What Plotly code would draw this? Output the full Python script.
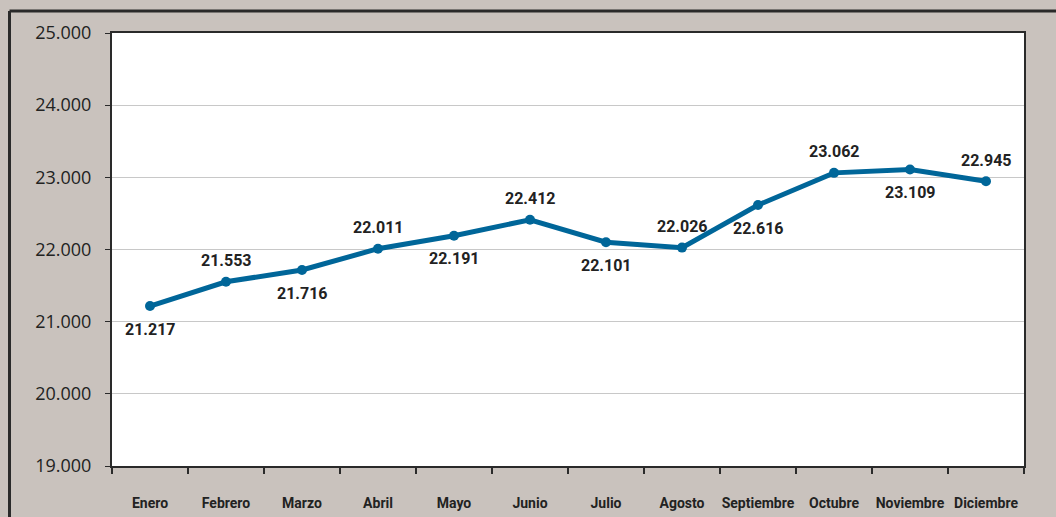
import plotly.graph_objects as go

# Monthly series
months = ["Enero", "Febrero", "Marzo", "Abril", "Mayo", "Junio", "Julio",
          "Agosto", "Septiembre", "Octubre", "Noviembre", "Diciembre"]
values = [21217, 21553, 21716, 22011, 22191, 22412, 22101,
          22026, 22616, 23062, 23109, 22945]
label_side = ["below", "above", "below", "above", "below", "above",
              "below", "above", "below", "above", "below", "above"]
y_ticks = [19000, 20000, 21000, 22000, 23000, 24000, 25000]

W, H = 1056, 517
L, R, T, B = 112, 32, 33, 51
plot_w = W - L - R
plot_h = H - T - B

LINE = "#006699"
BG = "#C9C2BD"
DARK = "#2A2A2A"
LABEL_FONT = "Roboto, sans-serif"


def fmt(v):
    return f"{v:,}".replace(",", ".")


def px_x(p):
    return (p - L) / plot_w


def px_y(p):
    return (H - B - p) / plot_h


fig = go.Figure()
fig.add_trace(go.Scatter(
    x=months, y=values, mode="lines+markers",
    line=dict(color=LINE, width=5),
    marker=dict(color=LINE, size=10),
    hoverinfo="skip", showlegend=False,
))

for m, v, side in zip(months, values, label_side):
    fig.add_annotation(
        x=m, y=v, text=f"<b>{fmt(v)}</b>", showarrow=False,
        yshift=21 if side == "above" else -23,
        font=dict(family=LABEL_FONT, size=16, color="#222222"),
    )

# Outer frame: top and left rules of the panel
fig.add_shape(type="line", xref="paper", yref="paper",
              x0=px_x(9.5), x1=px_x(W + 10), y0=px_y(11), y1=px_y(11),
              line=dict(color=DARK, width=3))
fig.add_shape(type="line", xref="paper", yref="paper",
              x0=px_x(9.5), x1=px_x(9.5), y0=px_y(11), y1=px_y(H + 10),
              line=dict(color=DARK, width=3))

fig.update_layout(
    width=W, height=H,
    margin=dict(l=L, r=R, t=T, b=B, autoexpand=False),
    paper_bgcolor=BG, plot_bgcolor="white",
    separators=",.",
    xaxis=dict(
        type="category", range=[-0.5, len(months) - 0.5],
        tickson="boundaries", ticks="outside", ticklen=6,
        tickcolor=DARK, tickwidth=1.5, showgrid=False,
        showline=True, linecolor=DARK, linewidth=2, mirror=True,
        tickangle=0, automargin=False,
        tickfont=dict(family=LABEL_FONT, size=14, color="#222222", weight="bold"),
        ticklabelstandoff=23, fixedrange=True,
    ),
    yaxis=dict(
        range=[19000, 25000], tickvals=y_ticks, tickformat=",d",
        ticks="outside", ticklen=5, tickcolor=DARK, tickwidth=1,
        showgrid=True, gridcolor="#C8C8C8", gridwidth=1,
        showline=True, linecolor=DARK, linewidth=2, mirror=True,
        automargin=False,
        tickfont=dict(family="Open Sans, sans-serif", size=18, color="#222222"),
        ticklabelstandoff=10, zeroline=False, fixedrange=True,
    ),
)

fig.write_html("out.html")
